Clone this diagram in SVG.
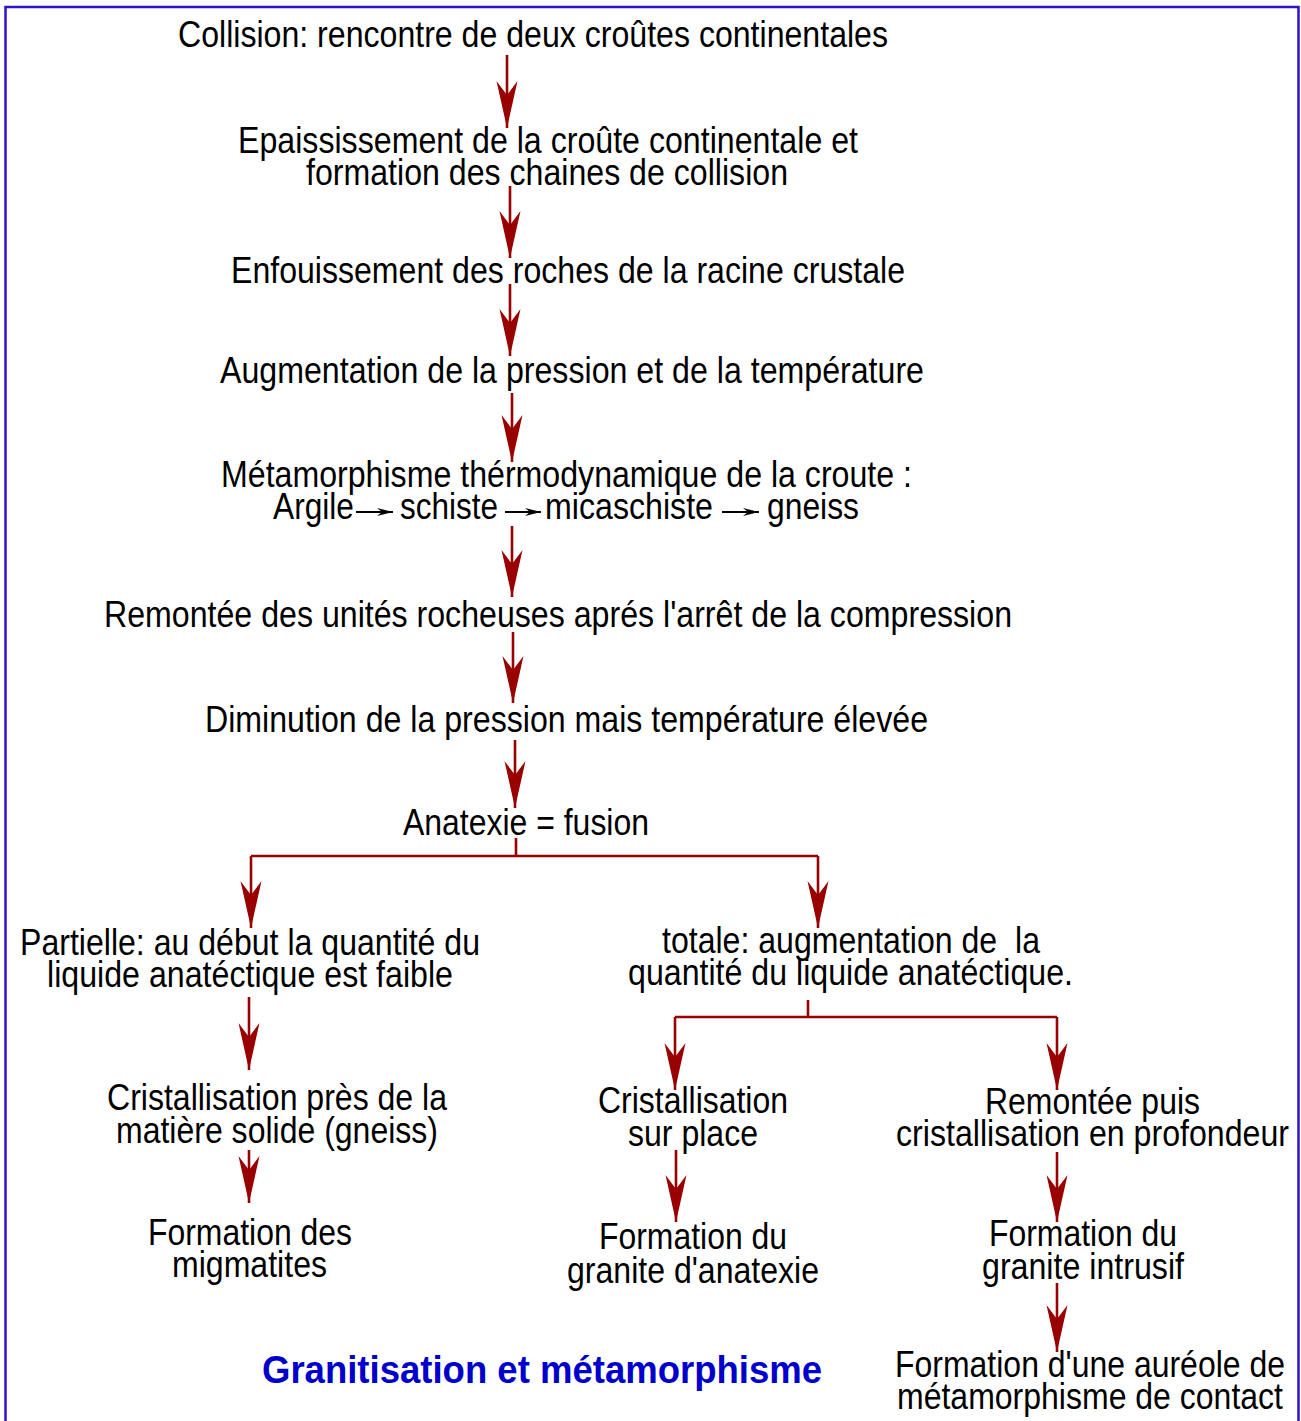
<svg xmlns="http://www.w3.org/2000/svg" width="1301" height="1421" viewBox="0 0 1301 1421">
<style>
text{font-family:"Liberation Sans Narrow","Liberation Sans",Arial,sans-serif;font-size:36px;fill:#000;white-space:pre}
.c{text-anchor:middle}
.title{font-weight:bold;fill:#0000CC;font-size:38px}
.red{stroke:#990000;stroke-width:2.6;fill:none}
.blk{stroke:#000;stroke-width:2;fill:none}
</style>
<defs>
<marker id="ah" markerUnits="userSpaceOnUse" markerWidth="48" markerHeight="21" refX="47" refY="10.5" orient="auto" overflow="visible">
<path d="M47 10.5 L0 0 L14 10.5 L0 21 Z" fill="#990000"/>
</marker>
<marker id="sh" markerUnits="userSpaceOnUse" markerWidth="16" markerHeight="8" refX="16" refY="4" orient="auto" overflow="visible">
<path d="M16 4 L0 0 L5 4 L0 8 Z" fill="#000"/>
</marker>
</defs>
<rect x="5.5" y="7" width="1293" height="1440" fill="#fff" stroke="#3311CC" stroke-width="2.5"/>
<g id="connectors">
<path class="red" d="M507 55 V128" marker-end="url(#ah)"/>
<path class="red" d="M510 186 V258" marker-end="url(#ah)"/>
<path class="red" d="M510 284 V356" marker-end="url(#ah)"/>
<path class="red" d="M512 393 V462" marker-end="url(#ah)"/>
<path class="red" d="M512 526 V597" marker-end="url(#ah)"/>
<path class="red" d="M513 632 V703" marker-end="url(#ah)"/>
<path class="red" d="M515 740 V808" marker-end="url(#ah)"/>
<path class="red" d="M516 838 V856 M251 856 H818"/>
<path class="red" d="M251 856 V928" marker-end="url(#ah)"/>
<path class="red" d="M818 856 V928" marker-end="url(#ah)"/>
<path class="red" d="M249 997 V1070" marker-end="url(#ah)"/>
<path class="red" d="M808 1000 V1017 M675 1017 H1057"/>
<path class="red" d="M675 1017 V1090" marker-end="url(#ah)"/>
<path class="red" d="M1057 1017 V1090" marker-end="url(#ah)"/>
<path class="red" d="M249 1150 V1203" marker-end="url(#ah)"/>
<path class="red" d="M676 1150 V1222" marker-end="url(#ah)"/>
<path class="red" d="M1057 1152 V1222" marker-end="url(#ah)"/>
<path class="red" d="M1057 1283 V1352" marker-end="url(#ah)"/>
</g>
<g id="n1"><text class="c" x="533" y="47" textLength="710" lengthAdjust="spacingAndGlyphs">Collision: rencontre de deux croûtes continentales</text></g>
<g id="n2">
<text class="c" x="548" y="153" textLength="620" lengthAdjust="spacingAndGlyphs">Epaississement de la croûte continentale et</text>
<text class="c" x="547" y="185" textLength="482" lengthAdjust="spacingAndGlyphs">formation des chaines de collision</text>
</g>
<g id="n3"><text class="c" x="568" y="283" textLength="674" lengthAdjust="spacingAndGlyphs">Enfouissement des roches de la racine crustale</text></g>
<g id="n4"><text class="c" x="572" y="383" textLength="704" lengthAdjust="spacingAndGlyphs">Augmentation de la pression et de la température</text></g>
<g id="n5">
<text class="c" x="566.5" y="487" textLength="691" lengthAdjust="spacingAndGlyphs">Métamorphisme thérmodynamique de la croute :</text>
<text x="273" y="519" textLength="81" lengthAdjust="spacingAndGlyphs">Argile</text>
<text x="400" y="519" textLength="98" lengthAdjust="spacingAndGlyphs">schiste</text>
<text x="545" y="519" textLength="168" lengthAdjust="spacingAndGlyphs">micaschiste</text>
<text x="767" y="519" textLength="92" lengthAdjust="spacingAndGlyphs">gneiss</text>
<path class="blk" d="M356 512 H393" marker-end="url(#sh)"/>
<path class="blk" d="M505 512 H541" marker-end="url(#sh)"/>
<path class="blk" d="M722 512 H759" marker-end="url(#sh)"/>
</g>
<g id="n6"><text class="c" x="558" y="627" textLength="908" lengthAdjust="spacingAndGlyphs">Remontée des unités rocheuses aprés l'arrêt de la compression</text></g>
<g id="n7"><text class="c" x="566.5" y="732" textLength="723" lengthAdjust="spacingAndGlyphs">Diminution de la pression mais température élevée</text></g>
<g id="n8"><text class="c" x="526" y="835" textLength="246" lengthAdjust="spacingAndGlyphs">Anatexie = fusion</text></g>
<g id="n9">
<text class="c" x="250" y="955" textLength="460" lengthAdjust="spacingAndGlyphs">Partielle: au début la quantité du</text>
<text class="c" x="250" y="987" textLength="406" lengthAdjust="spacingAndGlyphs">liquide anatéctique est faible</text>
</g>
<g id="n10">
<text class="c" x="851" y="953" textLength="378" lengthAdjust="spacingAndGlyphs">totale: augmentation de  la</text>
<text class="c" x="850.5" y="985" textLength="445" lengthAdjust="spacingAndGlyphs">quantité du liquide anatéctique.</text>
</g>
<g id="n11">
<text class="c" x="277" y="1110" textLength="340" lengthAdjust="spacingAndGlyphs">Cristallisation près de la</text>
<text class="c" x="277" y="1143" textLength="322" lengthAdjust="spacingAndGlyphs">matière solide (gneiss)</text>
</g>
<g id="n12">
<text class="c" x="693" y="1113" textLength="190" lengthAdjust="spacingAndGlyphs">Cristallisation</text>
<text class="c" x="693" y="1146" textLength="130" lengthAdjust="spacingAndGlyphs">sur place</text>
</g>
<g id="n13">
<text class="c" x="1092.5" y="1114" textLength="215" lengthAdjust="spacingAndGlyphs">Remontée puis</text>
<text class="c" x="1092.5" y="1146" textLength="393" lengthAdjust="spacingAndGlyphs">cristallisation en profondeur</text>
</g>
<g id="n14">
<text class="c" x="250" y="1245" textLength="204" lengthAdjust="spacingAndGlyphs">Formation des</text>
<text class="c" x="249.5" y="1277" textLength="155" lengthAdjust="spacingAndGlyphs">migmatites</text>
</g>
<g id="n15">
<text class="c" x="693" y="1249" textLength="188" lengthAdjust="spacingAndGlyphs">Formation du</text>
<text class="c" x="693" y="1283" textLength="252" lengthAdjust="spacingAndGlyphs">granite d'anatexie</text>
</g>
<g id="n16">
<text class="c" x="1083" y="1246" textLength="188" lengthAdjust="spacingAndGlyphs">Formation du</text>
<text class="c" x="1083" y="1279" textLength="202" lengthAdjust="spacingAndGlyphs">granite intrusif</text>
</g>
<g id="n17">
<text class="c" x="1090" y="1377" textLength="390" lengthAdjust="spacingAndGlyphs">Formation d'une auréole de</text>
<text class="c" x="1090" y="1409" textLength="386" lengthAdjust="spacingAndGlyphs">métamorphisme de contact</text>
</g>
<g id="title"><text class="c title" x="542" y="1383" textLength="560" lengthAdjust="spacingAndGlyphs">Granitisation et métamorphisme</text></g>
</svg>
